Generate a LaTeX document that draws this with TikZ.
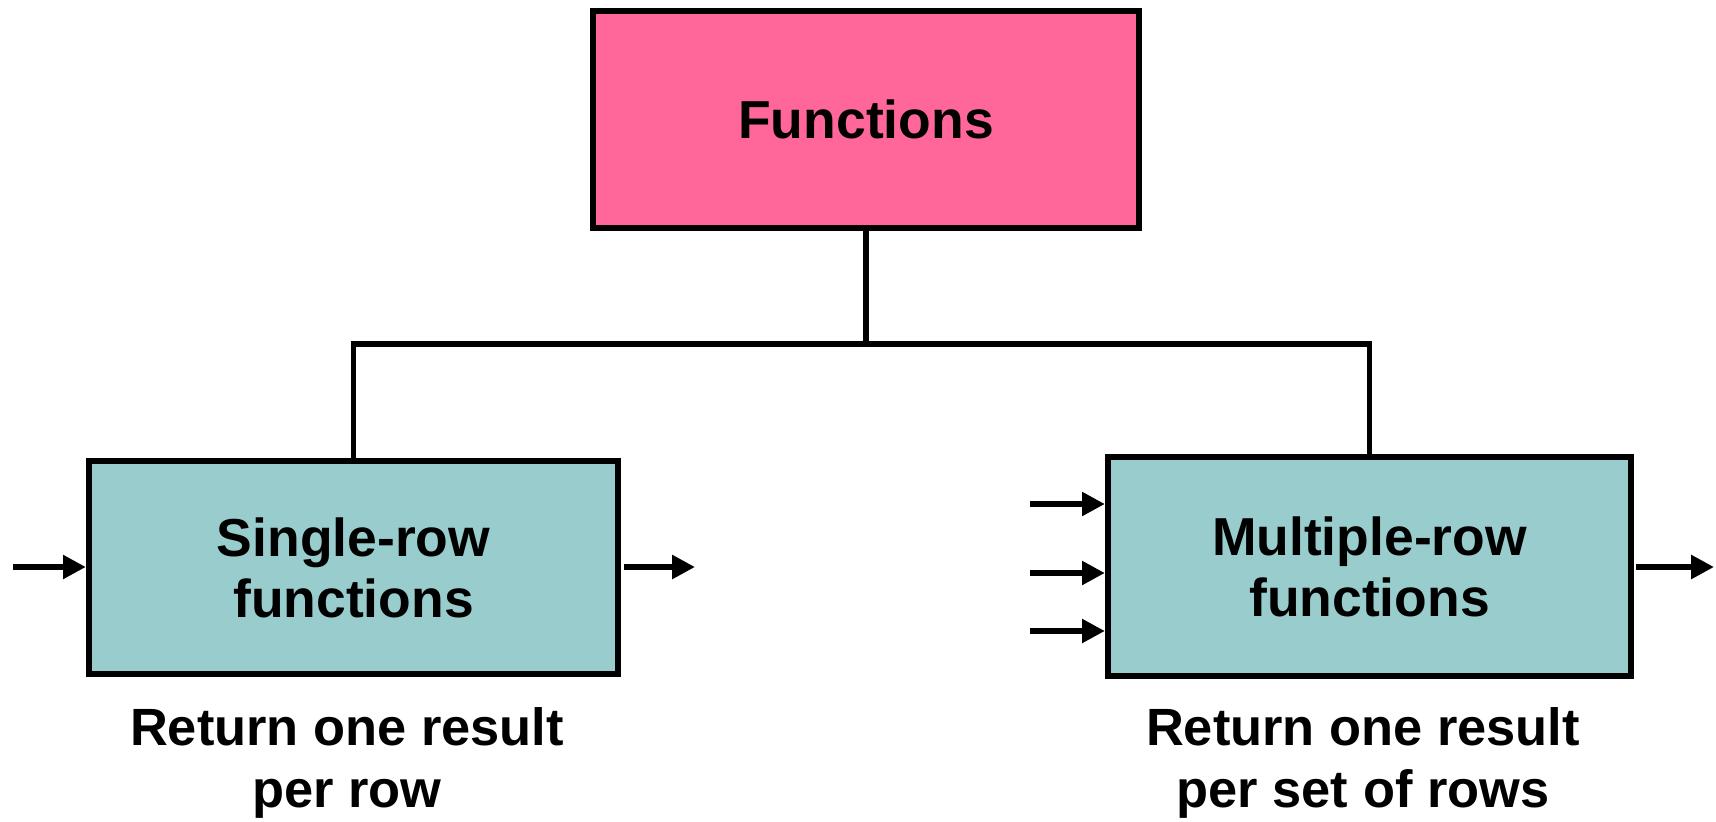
\documentclass[tikz,border=0pt]{standalone}
\usepackage{fontspec}
\setmainfont{Liberation Sans}
\usetikzlibrary{arrows.meta}
\definecolor{pinkfill}{HTML}{FF6699}
\definecolor{tealfill}{HTML}{99CCCC}
\begin{document}
\begin{tikzpicture}[x=0.01cm,y=-0.01cm,
  box/.style={draw=black,line width=1.7pt,minimum width=#1,inner sep=0pt,
    font=\bfseries\fontsize{15.2}{17.4}\selectfont,align=center},
  link/.style={line width=1.6pt},
  arr/.style={line width=1.6pt,-{Triangle[length=6.5pt,width=6.5pt]}},
  lbl/.style={font=\bfseries\fontsize{14.9}{17.4}\selectfont,align=center,inner sep=0pt}]
\useasboundingbox (0,0) rectangle (1716,821);
\node[box=5.45cm,minimum height=2.17cm,fill=pinkfill] (fun) at (866,119.5) {Functions};
\node[box=5.29cm,minimum height=2.13cm,fill=tealfill] (single) at (353.5,567.5) {Single-row\\functions};
\node[box=5.23cm,minimum height=2.19cm,fill=tealfill] (multi) at (1369.5,566.5) {Multiple-row\\functions};
\coordinate (j) at (fun.south |- 0,344);
\draw[link] (fun.south) -- (j);
\draw[link] (single.north) |- (j) -| (multi.north);
% single-row arrows
\coordinate (sin) at (13,567);
\coordinate (sout) at (695,567);
\draw[arr] (sin) -- (single.west |- sin);
\draw[arr] (single.east |- sout) ++(3,0) -- (sout);
% multiple-row arrows
\coordinate (m1) at (1030,504);
\coordinate (m2) at (1030,573);
\coordinate (m3) at (1030,631);
\coordinate (mout) at (1714,567);
\draw[arr] (m1) -- (multi.west |- m1);
\draw[arr] (m2) -- (multi.west |- m2);
\draw[arr] (m3) -- (multi.west |- m3);
\draw[arr] (multi.east |- mout) ++(2,0) -- (mout);
% labels
\node[lbl] (lsingle) at (347,763) {Return one result\\per row};
\node[lbl] (lmulti) at (1363,763) {Return one result\\per set of rows};
\end{tikzpicture}
\end{document}
